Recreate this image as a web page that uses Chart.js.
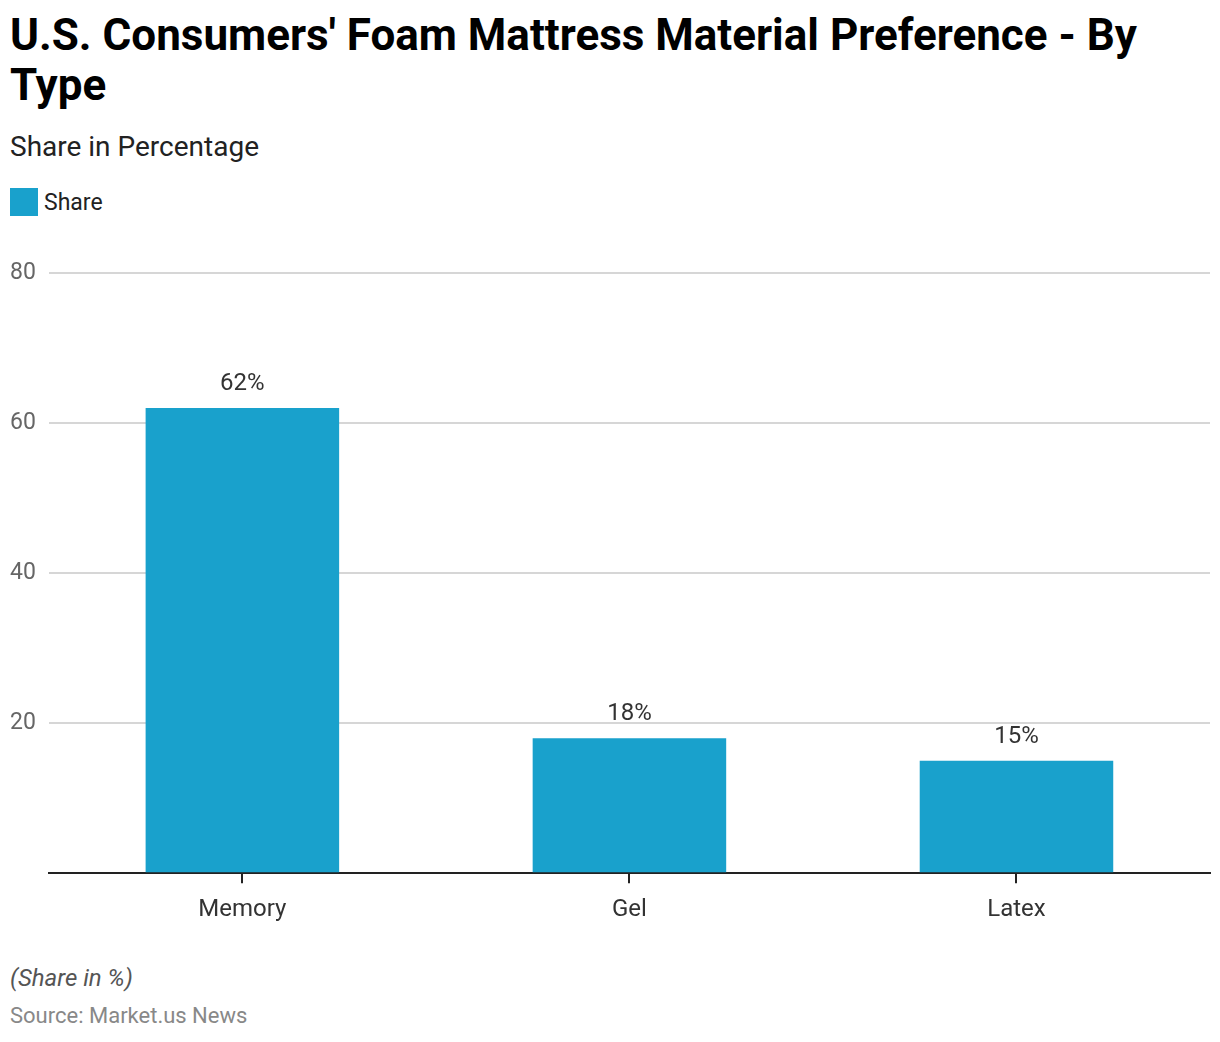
<!DOCTYPE html>
<html>
<head>
<meta charset="utf-8">
<script src="https://cdn.jsdelivr.net/npm/chart.js@4.4.0/dist/chart.umd.min.js"></script>
<style>
  body { margin: 0; background: #fff; font-family: Roboto, sans-serif; width: 1220px; height: 1042px; position: relative; overflow: hidden; }
  h1 { position: absolute; left: 10px; top: 10px; margin: 0; font-size: 44px; line-height: 50px; font-weight: 700; color: #000; width: 1180px; }
  .sub { position: absolute; left: 10px; top: 130px; font-size: 28px; color: #222; }
  .legend { position: absolute; left: 10px; top: 188px; font-size: 23px; color: #222; display: flex; align-items: center; }
  .legend span.box { width: 28px; height: 28px; background: #19a1cc; display: inline-block; margin-right: 6px; }
  #wrap { position: absolute; left: 0; top: 249px; width: 1220px; height: 687px; }
  .note { position: absolute; left: 10px; top: 964px; font-size: 24px; font-style: italic; color: #555; }
  .src { position: absolute; left: 10px; top: 1003px; font-size: 22px; color: #888; }
</style>
</head>
<body>
<h1>U.S. Consumers' Foam Mattress Material Preference - By Type</h1>
<div class="sub">Share in Percentage</div>
<div class="legend"><span class="box"></span>Share</div>
<div id="wrap"><canvas id="chart"></canvas></div>
<div class="note">(Share in %)</div>
<div class="src">Source: Market.us News</div>
<script>
const categories = ["Memory", "Gel", "Latex"];
const shareValues = [62, 18, 15];
const yTicks = [0, 20, 40, 60, 80];

const valueLabels = {
  id: "valueLabels",
  afterDatasetsDraw(chart) {
    const ctx = chart.ctx;
    const meta = chart.getDatasetMeta(0);
    ctx.save();
    ctx.font = "24px Roboto";
    ctx.fillStyle = "#333";
    ctx.textAlign = "center";
    ctx.textBaseline = "bottom";
    meta.data.forEach((bar, i) => {
      ctx.fillText(shareValues[i] + "%", bar.x, bar.y - 12);
    });
    ctx.restore();
  },
};

new Chart(document.getElementById("chart"), {
  type: "bar",
  data: {
    labels: categories,
    datasets: [
      {
        label: "Share",
        data: shareValues,
        backgroundColor: "#19a1cc",
        barPercentage: 0.5,
        categoryPercentage: 1,
      },
    ],
  },
  options: {
    animation: false,
    responsive: true,
    maintainAspectRatio: false,
    layout: { padding: { left: 10, right: 10, top: 24, bottom: 0 } },
    plugins: { legend: { display: false }, tooltip: { enabled: false } },
    scales: {
      x: {
        grid: { display: true, offset: false, drawOnChartArea: false, drawTicks: true, tickLength: 10, color: "#222", lineWidth: 2 },
        border: { display: true, color: "#222", width: 2 },
        ticks: { color: "#333", font: { family: "Roboto", size: 24 }, padding: 12 },
      },
      y: {
        min: yTicks[0],
        max: yTicks[yTicks.length - 1],
        afterBuildTicks(axis) {
          axis.ticks = yTicks.map((v) => ({ value: v }));
        },
        grid: { color: "#d6d6d6", lineWidth: 2, drawTicks: false },
        border: { display: false },
        ticks: {
          color: "#666",
          font: { family: "Roboto", size: 23 },
          crossAlign: "far",
          padding: 6.5,
          callback: (v) => (v === 0 ? "" : v),
        },
      },
    },
  },
  plugins: [valueLabels],
});
</script>
</body>
</html>
